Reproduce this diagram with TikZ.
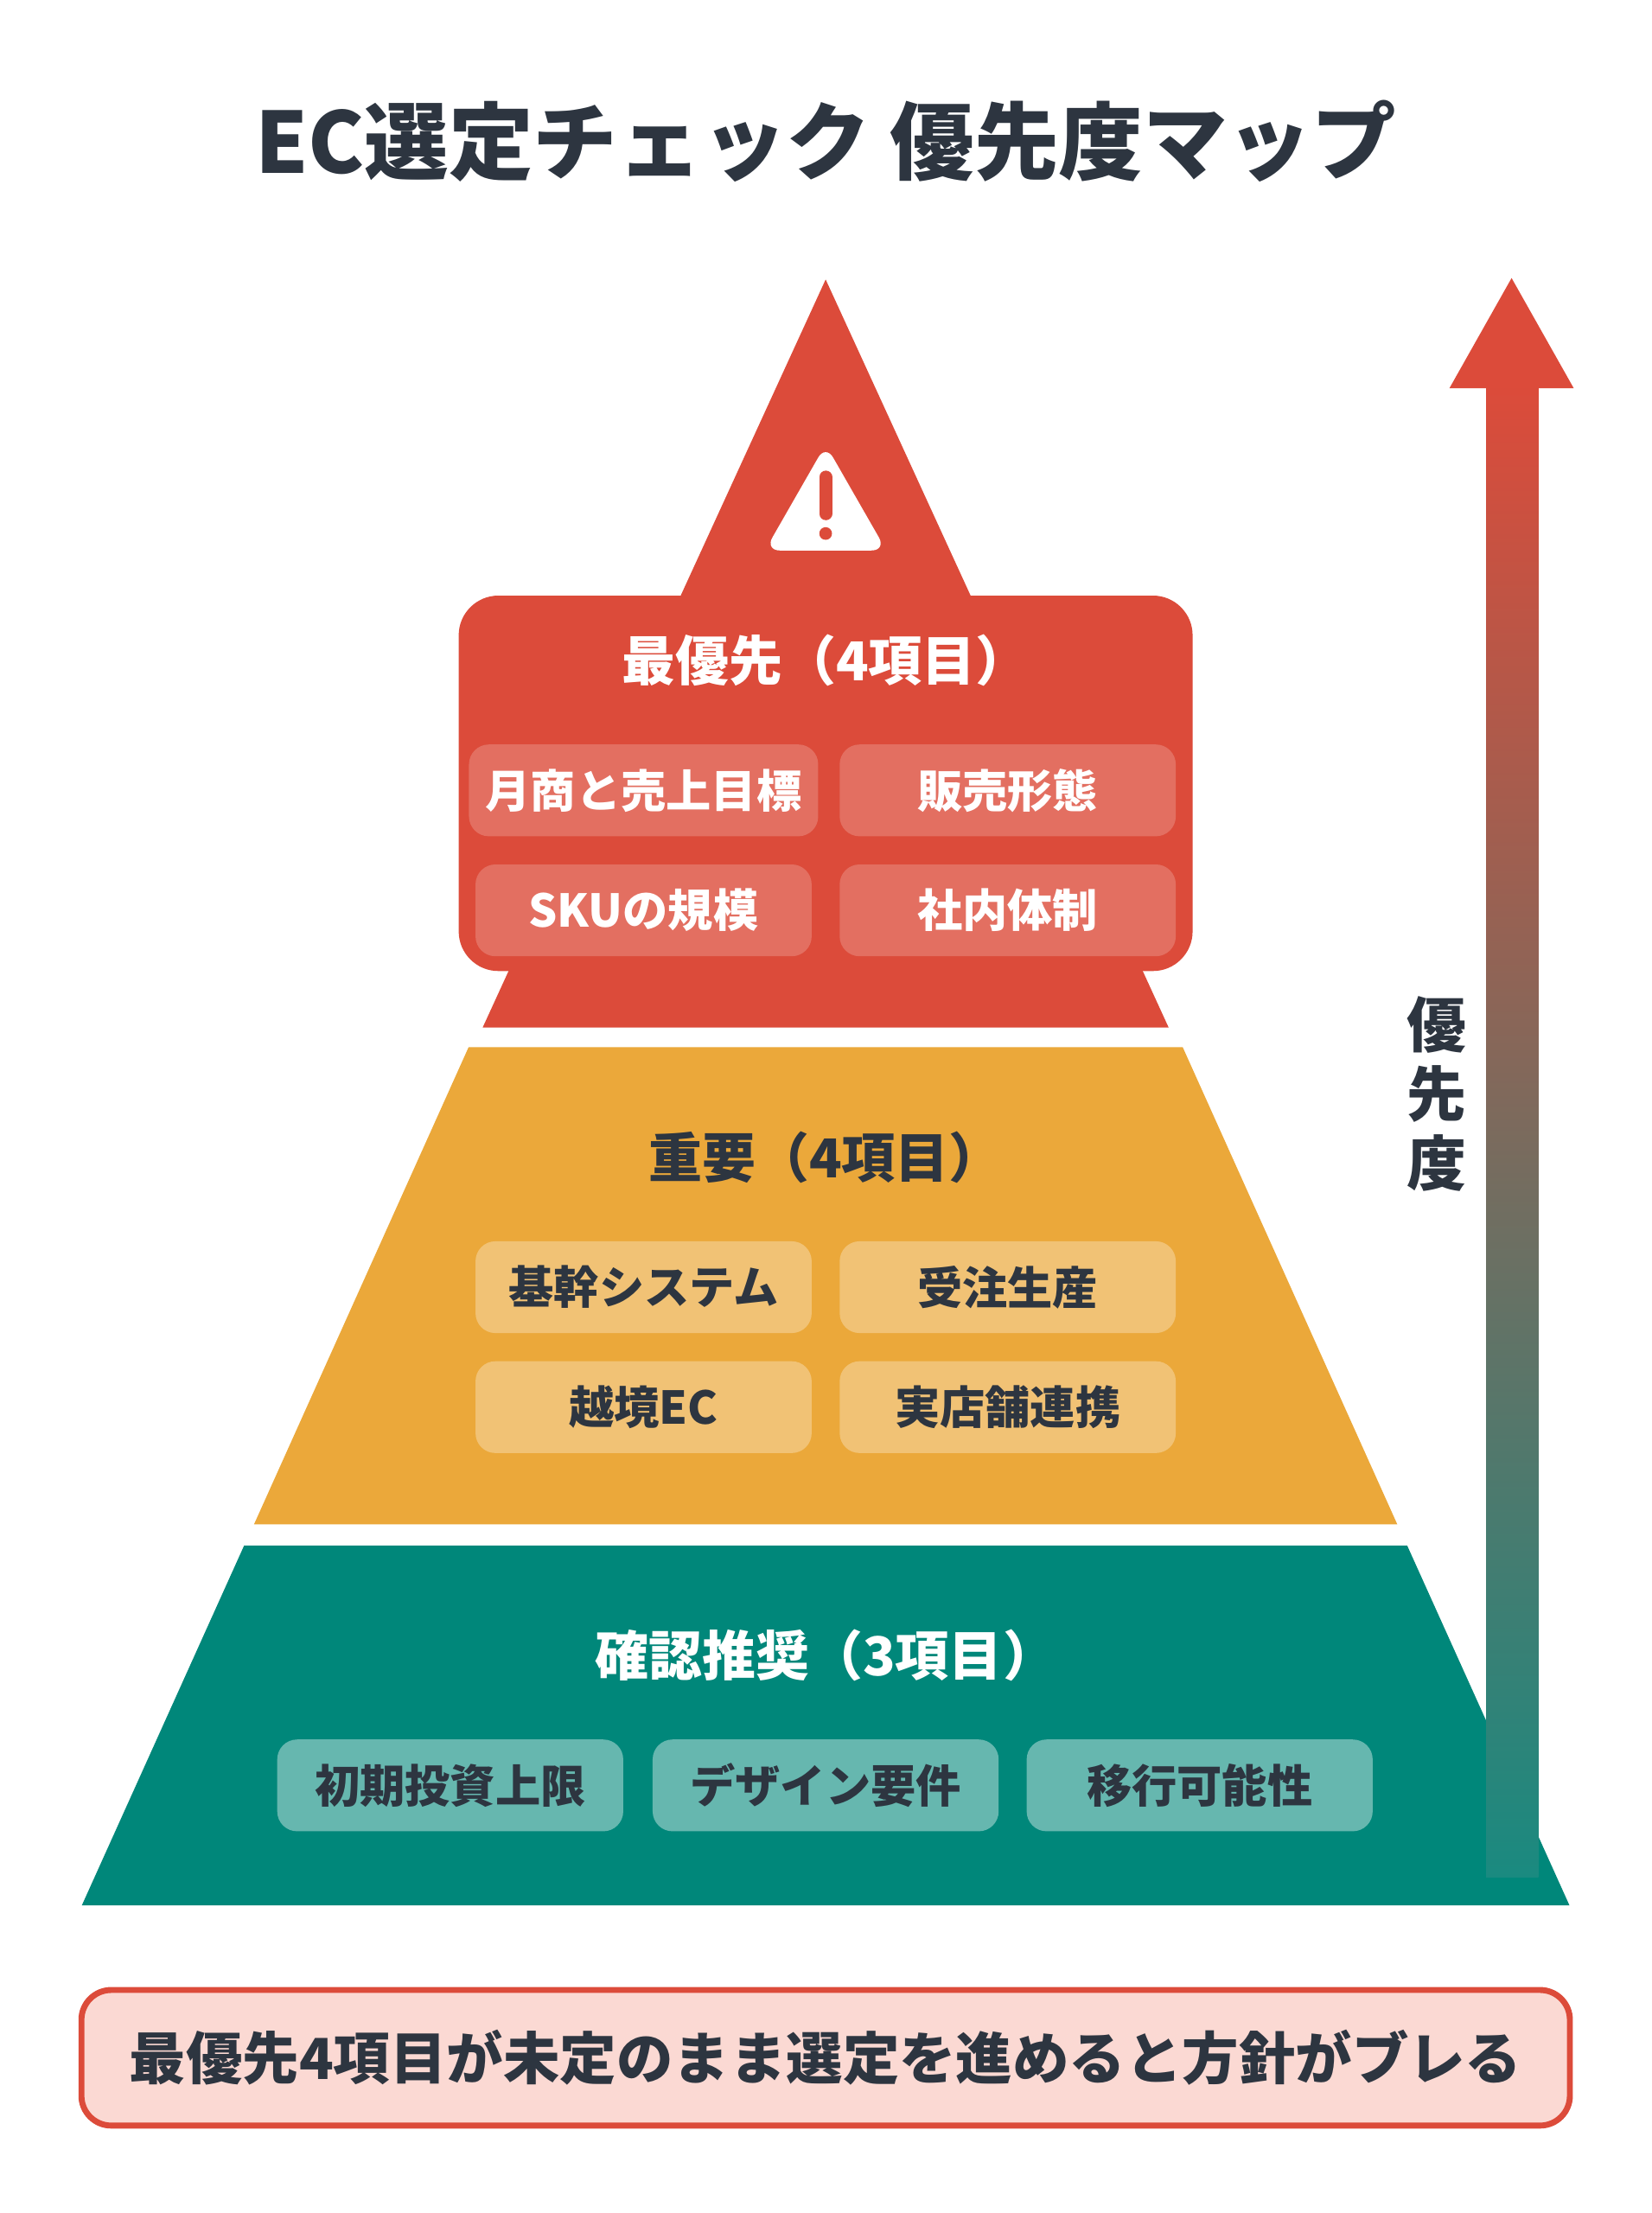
\documentclass[tikz,border=0pt]{standalone}
\usepackage{fontspec}
\setmainfont{Noto Sans CJK JP}
\usepackage{xcolor}
\definecolor{topred}{RGB}{220, 75, 58}
\definecolor{midorange}{RGB}{235, 168, 58}
\definecolor{baseteal}{RGB}{0, 135, 122}
\definecolor{darktext}{RGB}{45, 53, 64}
\definecolor{notepink}{RGB}{251, 217, 211}
\definecolor{arrowteal}{RGB}{26, 138, 128}

\begin{document}
\begin{tikzpicture}[
    x=0.01cm, y=-0.01cm,
    title/.style={font=\fontsize{17}{20}\selectfont\bfseries, text=darktext},
    tiertitle/.style={font=\fontsize{10.8}{13}\selectfont\bfseries},
    item/.style={rectangle, rounded corners=4pt, minimum height=0.65cm, text centered, font=\fontsize{9.1}{11}\selectfont\bfseries},
    reditem/.style={item, minimum width=2.38cm, fill=white, fill opacity=0.2, text opacity=1, text=white},
    orangeitem/.style={item, minimum width=2.38cm, fill=white, fill opacity=0.3, text opacity=1, text=darktext},
    tealitem/.style={item, minimum width=2.45cm, fill=white, fill opacity=0.4, text opacity=1, text=darktext},
    note/.style={rectangle, rounded corners=6pt, minimum width=10.54cm, minimum height=0.96cm, fill=notepink, draw=topred, line width=1.2pt, text=darktext, font=\fontsize{11.4}{14}\selectfont\bfseries}
]

% Background
\useasboundingbox (0,0) rectangle (1170,1568);
\fill[white] (0,0) rectangle (1170,1568);

% Title
\node[title] (title) at (585,100) {EC選定チェック 優先度マップ};

% Top tier
\fill[topred] (585,198) -- (828,728) -- (342,728) -- cycle;
\fill[topred, rounded corners=8pt] (325,422) rectangle (845,688);
\fill[white, rounded corners=3pt] (542,390) -- (628,390) -- (585,315) -- cycle;
\draw[topred, line width=2.6pt, line cap=round] (585,338) -- (585,364);
\fill[topred] (585,378) circle (4.5);
\node[tiertitle, text=white] (toptitle) at (585,468) {最優先（4項目）};
\node[reditem] (sales) at (456,560) {月商と売上目標};
\node[reditem] (form) at (714,560) {販売形態};
\node[reditem] (sku) at (456,645) {SKUの規模};
\node[reditem] (team) at (714,645) {社内体制};

% Middle tier
\fill[midorange] (332,742) -- (838,742) -- (990,1080) -- (180,1080) -- cycle;
\node[tiertitle, text=darktext] (midtitle) at (585,820) {重要（4項目）};
\node[orangeitem] (core) at (456,912) {基幹システム};
\node[orangeitem] (order) at (714,912) {受注生産};
\node[orangeitem] (cross) at (456,997) {越境EC};
\node[orangeitem] (store) at (714,997) {実店舗連携};

% Base tier
\fill[baseteal] (173,1095) -- (997,1095) -- (1112,1350) -- (58,1350) -- cycle;
\node[tiertitle, text=white] (basetitle) at (585,1173) {確認推奨（3項目）};
\node[tealitem] (budget) at (319,1265) {初期投資上限};
\node[tealitem] (design) at (585,1265) {デザイン要件};
\node[tealitem] (migrate) at (850,1265) {移行可能性};

% Priority arrow
\shade[bottom color=arrowteal, top color=topred] (1053,1330) rectangle (1090,272);
\fill[topred] (1027,275) -- (1115,275) -- (1071,197) -- cycle;
\node[tiertitle, text=darktext, align=center, inner sep=0pt, font=\fontsize{12}{14}\selectfont\bfseries] (axis) at (1018,775) {優\\[0pt]先\\[0pt]度};

% Note
\node[note] (note) at (585,1458) {最優先4項目が未定のまま選定を進めると方針がブレる};

\end{tikzpicture}
\end{document}
